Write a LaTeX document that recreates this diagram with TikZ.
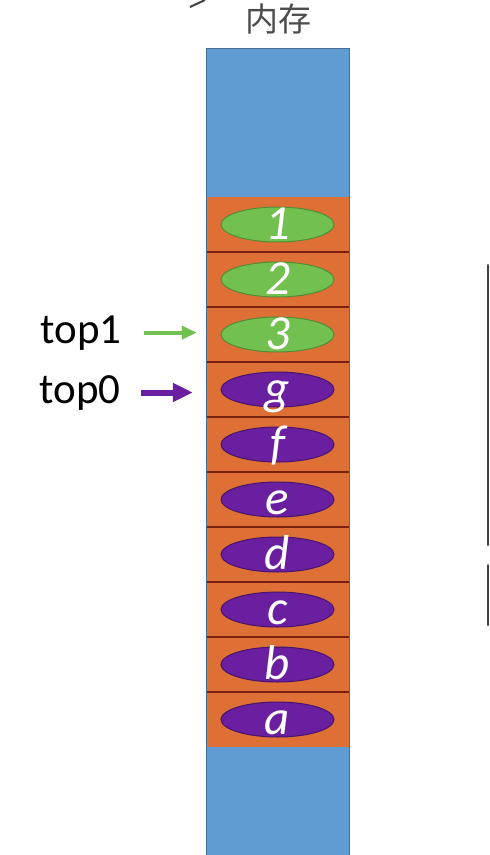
\documentclass[tikz,border=0pt]{standalone}
\usepackage{fontspec}
\setmainfont{Carlito}
\newfontfamily\cjk{Noto Sans CJK SC}
\usetikzlibrary{shapes.geometric, arrows.meta}

\definecolor{memblue}{RGB}{94,156,210}
\definecolor{memedge}{RGB}{72,112,150}
\definecolor{slotorange}{RGB}{223,112,53}
\definecolor{slotline}{RGB}{122,32,16}
\definecolor{stackgreen}{RGB}{114,192,80}
\definecolor{greenedge}{RGB}{80,140,55}
\definecolor{stackpurple}{RGB}{106,31,160}
\definecolor{purpleedge}{RGB}{70,20,110}

\tikzset{
  slot/.style={rectangle, fill=slotorange, minimum width=143pt, minimum height=55pt, inner sep=0pt},
  elem/.style={ellipse, minimum width=113pt, minimum height=35pt, inner sep=0pt, line width=1pt},
  elemtext/.style={anchor=base, text=white, font=\itshape\fontsize{49}{49}\selectfont},
  toplabel/.style={anchor=base, font=\fontsize{43}{43}\selectfont}
}

\begin{document}
\begin{tikzpicture}[x=1pt, y=-1pt]
  \useasboundingbox (0,0) rectangle (490,855);

  \node[text=black!70, font=\cjk\fontsize{33}{33}\selectfont] (title) at (278,19) {内存};

  \fill[memblue] (206,48) rectangle (349,197);
  \fill[memblue] (206,747) rectangle (349,855);

  \foreach \i/\t/\c/\e in {1/1/stackgreen/greenedge, 2/2/stackgreen/greenedge, 3/3/stackgreen/greenedge,
                           4/g/stackpurple/purpleedge, 5/f/stackpurple/purpleedge, 6/e/stackpurple/purpleedge,
                           7/d/stackpurple/purpleedge, 8/c/stackpurple/purpleedge, 9/b/stackpurple/purpleedge,
                           10/a/stackpurple/purpleedge} {
    \node[slot] (c\i) at (277.5, 169.5+55*\i) {};
    \node[elem, fill=\c, draw=\e] (e\i) at (c\i) {};
    \node[elemtext] (t\i) at ([yshift=-15pt]c\i.center) {\t};
  }

  \foreach \i in {1, ..., 9} {
    \draw[slotline, line width=2pt] (c\i.south west) -- (c\i.south east);
  }
  \draw[memedge, line width=0.8pt] (206,48) rectangle (349,855);

  \node[toplabel] (top1) at (81,343) {top1};
  \node[toplabel] (top0) at (80,403) {top0};

  \draw[stackgreen, line width=4pt, shorten <=19pt, shorten >=9pt, -{Triangle[length=15pt, width=13pt]}]
    (top1.east) -- (top1.east -| c3.west);
  \draw[stackpurple, line width=6pt, shorten <=17pt, shorten >=13pt, -{Triangle[length=20pt, width=18pt]}]
    (top0.east) -- (top0.east -| c4.west);

  \draw[black!75, line width=2pt, line cap=round] (488,265) -- (488,545);
  \draw[black!75, line width=2pt, line cap=round] (488,565) -- (488,625);
  \draw[black!75, line width=2pt] (190,7) -- (205,0);
\end{tikzpicture}
\end{document}
